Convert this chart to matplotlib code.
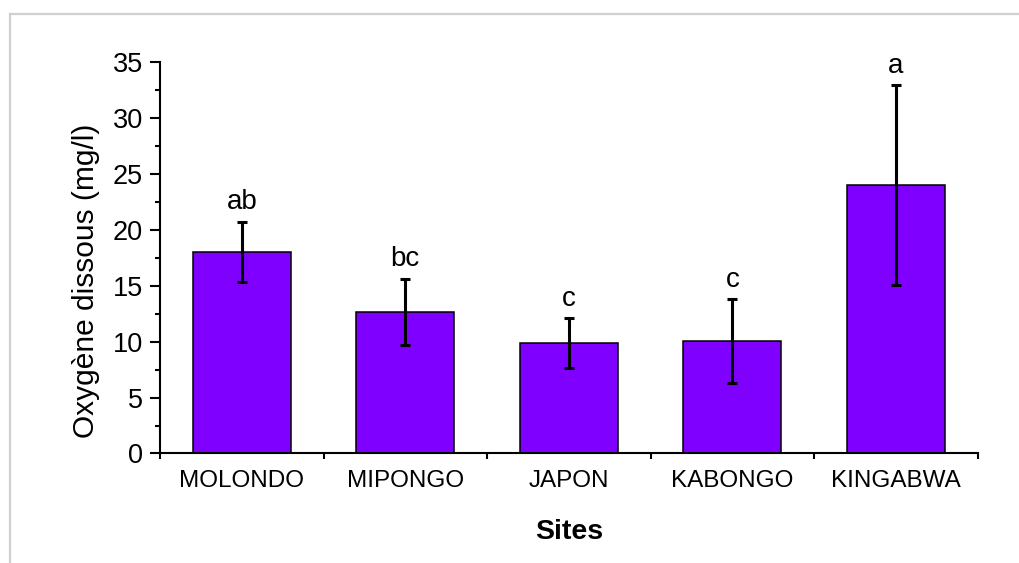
import numpy as np
import matplotlib
matplotlib.use("Agg")
import matplotlib.pyplot as plt
from matplotlib.lines import Line2D
from matplotlib.ticker import MultipleLocator, FixedLocator

sites = ["MOLONDO", "MIPONGO", "JAPON", "KABONGO", "KINGABWA"]
oxygen = [18.0, 12.65, 9.85, 10.05, 24.0]
errors = [2.7, 2.95, 2.23, 3.72, 8.9]
letters = ["ab", "bc", "c", "c", "a"]

plt.rcParams["font.family"] = ["Liberation Sans", "DejaVu Sans"]

fig = plt.figure(figsize=(10.2, 5.63), dpi=100)
ax = fig.add_axes([0.1569, 0.1945, 0.8016, 0.6954])

x = np.arange(len(sites))
ax.bar(x, oxygen, width=0.6, color="#8000ff", edgecolor="black", linewidth=1.1, zorder=2)
ax.errorbar(x, oxygen, yerr=errors, fmt="none", ecolor="black",
            elinewidth=2.2, capsize=3.8, capthick=2.2, zorder=3)

for xi, v, e, lab in zip(x, oxygen, errors, letters):
    ax.annotate(lab, (xi, v + e), xytext=(0, 9), textcoords="offset points",
                ha="center", va="baseline", fontsize=20)

ax.set_xlim(-0.5, 4.5)
ax.set_ylim(0, 35)
ax.spines["top"].set_visible(False)
ax.spines["right"].set_visible(False)
ax.spines["left"].set_linewidth(1.5)
ax.spines["bottom"].set_linewidth(1.5)

ax.yaxis.set_major_locator(MultipleLocator(5))
ax.yaxis.set_minor_locator(MultipleLocator(2.5))
ax.xaxis.set_major_locator(FixedLocator(np.arange(-0.5, 5, 1.0)))
ax.xaxis.set_minor_locator(FixedLocator(x))
ax.set_xticklabels([])
ax.set_xticks(x, sites, minor=True)

ax.tick_params(axis="y", which="major", direction="out", length=7.5, width=1.5,
               labelsize=19.5, pad=5)
ax.tick_params(axis="y", which="minor", direction="out", length=3.8, width=1.5)
ax.tick_params(axis="x", which="major", direction="out", length=4.5, width=1.5)
ax.tick_params(axis="x", which="minor", direction="in", length=3, width=1,
               labelsize=17.5, pad=12)

ax.set_ylabel("Oxygène dissous (mg/l)", fontsize=21.5)
ax.yaxis.set_label_coords(-0.074, 0.44)
ax.set_xlabel("Sites", fontsize=20.5, fontweight="bold", labelpad=19)

# light grey frame around the graph
fig.add_artist(Line2D([10 / 1020, 1.0], [1 - 13.5 / 563, 1 - 13.5 / 563],
                      transform=fig.transFigure, color="#cfcfcf", linewidth=1.6))
fig.add_artist(Line2D([10 / 1020, 10 / 1020], [0.0, 1 - 13.5 / 563],
                      transform=fig.transFigure, color="#cfcfcf", linewidth=1.6))

fig.savefig("out.png", dpi=100)
